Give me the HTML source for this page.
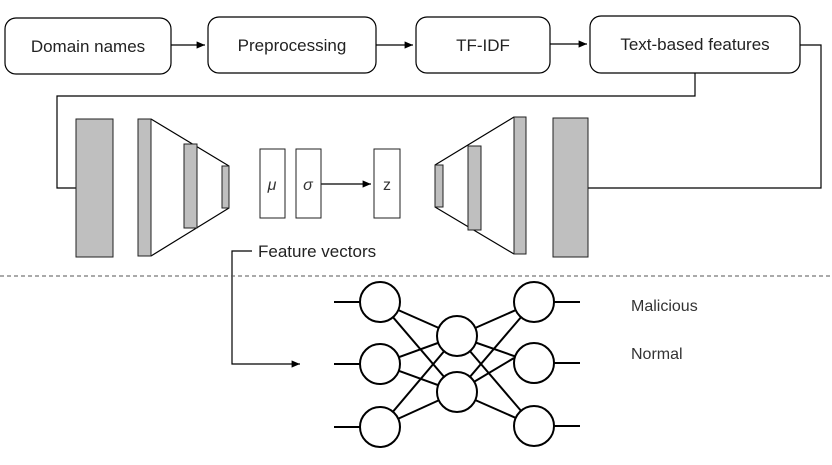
<!DOCTYPE html>
<html><head><meta charset="utf-8"><style>body{margin:0;background:#fff}</style></head><body>
<svg width="832" height="460" xmlns="http://www.w3.org/2000/svg" font-family="Liberation Sans, sans-serif">
<defs><marker id="a" markerWidth="8" markerHeight="8" refX="7" refY="3" orient="auto"><path d="M0,0 L7,3 L0,6z" fill="#000"/></marker></defs>
<g fill="#fff" stroke="#000" stroke-width="1.2">
<rect x="5" y="18" width="166" height="56" rx="11"/>
<rect x="208" y="17" width="168" height="56" rx="11"/>
<rect x="416" y="17" width="134" height="56" rx="11"/>
<rect x="590" y="16" width="210" height="57" rx="11"/>
</g>
<g font-size="17" text-anchor="middle" fill="#222">
<text x="88" y="52">Domain names</text>
<text x="292" y="51">Preprocessing</text>
<text x="483" y="51">TF-IDF</text>
<text x="695" y="50">Text-based features</text>
</g>
<g stroke="#000" stroke-width="1.2" fill="none">
<line x1="171" y1="45" x2="205" y2="45" marker-end="url(#a)"/>
<line x1="376" y1="45" x2="413" y2="45" marker-end="url(#a)"/>
<line x1="550" y1="44" x2="587" y2="44" marker-end="url(#a)"/>
<polyline points="695,73 695,96 57,96 57,188 76,188"/>
<polyline points="800,45 821,45 821,188 588,188"/>
<line x1="151" y1="119" x2="229" y2="166"/>
<line x1="151" y1="256" x2="229" y2="208"/>
<line x1="435" y1="165" x2="514" y2="117"/>
<line x1="435" y1="207" x2="514" y2="254"/>
<line x1="321" y1="184" x2="371" y2="184" marker-end="url(#a)"/>
<polyline points="252,251 232,251 232,364 300,364" marker-end="url(#a)"/>
</g>
<g fill="#bfbfbf" stroke="#222" stroke-width="1">
<rect x="76" y="119" width="37" height="138"/>
<rect x="138" y="119" width="13" height="137"/>
<rect x="184" y="144" width="13" height="84"/>
<rect x="222" y="166" width="7" height="42"/>
<rect x="435" y="165" width="8" height="42"/>
<rect x="468" y="146" width="13" height="84"/>
<rect x="514" y="117" width="12" height="137"/>
<rect x="553" y="118" width="35" height="139"/>
</g>
<g fill="#fff" stroke="#222" stroke-width="1">
<rect x="260" y="149" width="25" height="69"/>
<rect x="296" y="149" width="25" height="69"/>
<rect x="374" y="149" width="26" height="69"/>
</g>
<g font-size="16" fill="#333" text-anchor="middle" font-style="italic">
<text x="272" y="190">μ</text><text x="308" y="190">σ</text><text x="387" y="190" font-style="normal">z</text>
</g>
<text x="258" y="257" font-size="17" fill="#222">Feature vectors</text>
<line x1="0" y1="276" x2="832" y2="276" stroke="#555" stroke-width="1" stroke-dasharray="4,3"/>
<g stroke="#000" stroke-width="2" fill="none">
<line x1="334" y1="302" x2="360" y2="302"/><line x1="334" y1="364" x2="360" y2="364"/><line x1="334" y1="427" x2="360" y2="427"/>
<line x1="554" y1="302" x2="580" y2="302"/><line x1="554" y1="363" x2="580" y2="363"/><line x1="554" y1="426" x2="580" y2="426"/>
<line x1="380" y1="302" x2="457" y2="336"/><line x1="380" y1="302" x2="457" y2="392"/>
<line x1="380" y1="364" x2="457" y2="336"/><line x1="380" y1="364" x2="457" y2="392"/>
<line x1="380" y1="427" x2="457" y2="336"/><line x1="380" y1="427" x2="457" y2="392"/>
<line x1="457" y1="336" x2="534" y2="302"/><line x1="457" y1="336" x2="534" y2="363"/><line x1="457" y1="336" x2="534" y2="426"/>
<line x1="457" y1="392" x2="534" y2="302"/><line x1="457" y1="392" x2="514" y2="358"/><line x1="457" y1="392" x2="534" y2="426"/>
</g>
<g stroke="#000" stroke-width="2" fill="#fff">
<circle cx="380" cy="302" r="20"/><circle cx="380" cy="364" r="20"/><circle cx="380" cy="427" r="20"/>
<circle cx="457" cy="336" r="20"/><circle cx="457" cy="392" r="20"/>
<circle cx="534" cy="302" r="20"/><circle cx="534" cy="363" r="20"/><circle cx="534" cy="426" r="20"/>
</g>
<g font-size="16" fill="#333">
<text x="631" y="311">Malicious</text><text x="631" y="359">Normal</text>
</g>
</svg>
</body></html>
